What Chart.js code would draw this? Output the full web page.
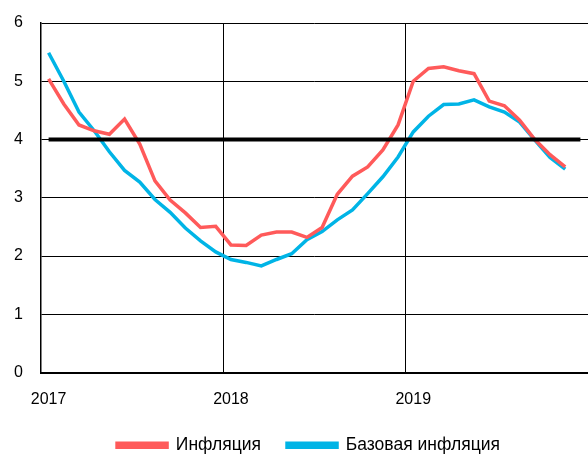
<!DOCTYPE html>
<html>
<head>
<meta charset="utf-8">
<script src="https://cdn.jsdelivr.net/npm/chart.js@4"></script>
<style>
  html, body { margin: 0; padding: 0; background: #fff; }
  #wrap { width: 588px; height: 455px; position: relative; }
</style>
</head>
<body>
<div id="wrap"><canvas id="chart"></canvas></div>
<script>
// months Jan 2017 .. Dec 2019
const years = ["2017", "2018", "2019"];
const months = [];
years.forEach(y => { for (let m = 1; m <= 12; m++) months.push(y + "-" + String(m).padStart(2, "0")); });

// Инфляция, % г/г (Jan 2017 .. Nov 2019)
const inflation = [5.04, 4.61, 4.25, 4.15, 4.09, 4.35, 3.92, 3.29, 2.96, 2.74, 2.49, 2.51,
                   2.19, 2.18, 2.36, 2.41, 2.41, 2.32, 2.49, 3.06, 3.37, 3.53, 3.82, 4.25,
                   5.00, 5.22, 5.25, 5.18, 5.13, 4.66, 4.58, 4.33, 4.00, 3.74, 3.53];
// Базовая инфляция
const coreInflation = [5.49, 5.00, 4.47, 4.15, 3.79, 3.47, 3.27, 2.97, 2.75, 2.48, 2.26, 2.07,
                       1.94, 1.89, 1.83, 1.94, 2.04, 2.28, 2.42, 2.62, 2.79, 3.07, 3.36, 3.70,
                       4.13, 4.40, 4.60, 4.61, 4.68, 4.56, 4.47, 4.30, 3.99, 3.69, 3.49];
// цель 4%
const target = months.map(() => 4);

const RED = "#ff5a5a";
const BLUE = "#00b4e6";
const FONT = "'Liberation Sans', Arial, sans-serif";

// legend in the original sits a bit right of centre
const legendShift = {
  id: "legendShift",
  afterLayout(chart) {
    chart.legend.left += 13;
    chart.legend.right += 13;
  }
};

new Chart(document.getElementById("chart"), {
  type: "line",
  data: {
    labels: months,
    datasets: [
      { label: "Инфляция", data: inflation, borderColor: RED, backgroundColor: RED,
        borderWidth: 3.5, pointRadius: 0, tension: 0, order: 1 },
      { label: "Базовая инфляция", data: coreInflation, borderColor: BLUE, backgroundColor: BLUE,
        borderWidth: 3.5, pointRadius: 0, tension: 0, order: 2 },
      { label: "target", data: target, borderColor: "#000", backgroundColor: "#000",
        borderWidth: 4, pointRadius: 0, tension: 0, order: 0 }
    ]
  },
  options: {
    responsive: true,
    maintainAspectRatio: false,
    animation: false,
    layout: { padding: { top: 23, right: -3, left: 0, bottom: -9 } },
    scales: {
      x: {
        type: "category",
        offset: true,
        grid: {
          offset: true,
          drawTicks: false,
          color: c => (c.index === 12 || c.index === 24) ? "#000" : "rgba(0,0,0,0)",
          lineWidth: 1
        },
        border: { color: "#000", width: 2 },
        ticks: {
          autoSkip: false, maxRotation: 0, padding: 17, color: "#000",
          font: { family: FONT, size: 16 },
          callback: (v, i) => i % 12 === 0 ? months[i].slice(0, 4) : ""
        },
        afterFit: s => { s.height = 38; s.paddingLeft = 0; s.paddingRight = 0; }
      },
      y: {
        min: 0, max: 6,
        grid: { color: "#000", lineWidth: 1, drawTicks: false },
        border: { color: "#000", width: 1.5 },
        ticks: { stepSize: 1, padding: 18, color: "#000", font: { family: FONT, size: 16 } },
        afterFit: s => { s.width = 41; s.paddingTop = 0; s.paddingBottom = 0; }
      }
    },
    plugins: {
      tooltip: { enabled: false },
      legend: {
        position: "bottom",
        labels: {
          filter: item => item.text !== "target",
          boxWidth: 50, boxHeight: 4, padding: 26, color: "#000",
          font: { family: FONT, size: 17.5 }
        }
      }
    }
  },
  plugins: [legendShift]
});
</script>
</body>
</html>
